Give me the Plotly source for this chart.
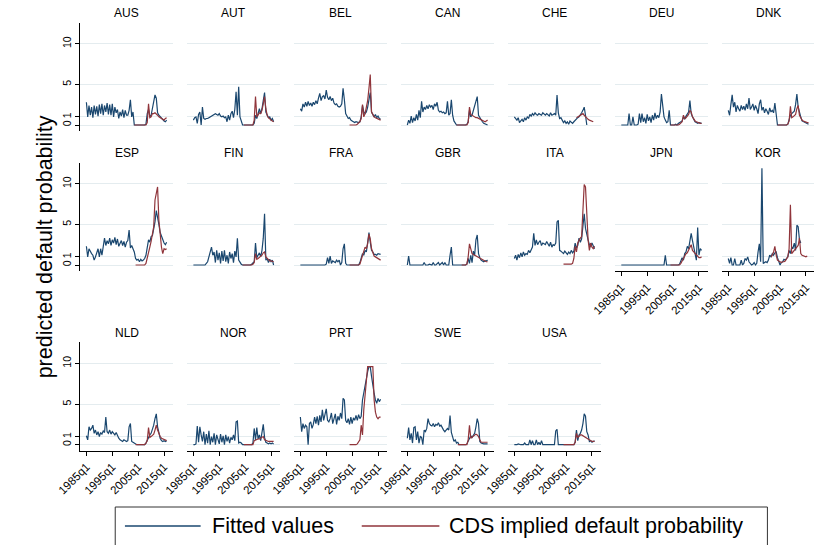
import plotly.graph_objects as go

# Semi-annual observations. Fitted values start in 1985h1; each CDS series
# starts at its own year.
FIT_START = 1985.0
STEP = 0.5

aus_fit = [2.8, 1.0, 2.4, 1.2, 2.2, 0.9, 2.4, 1.3, 2.3, 1.1,
           2.5, 1.4, 2.6, 1.2, 2.4, 1.6, 2.7, 1.3, 2.5, 1.2,
           2.6, 1.0, 2.2, 1.5, 1.9, 0.8, 1.6, 1.1, 1.9, 0.9,
           1.8, 1.2, 1.2, 1.8, 3.1, 1.0, 1.6, 0.0, 0.0, 0.0,
           0.0, 0.0, 0.0, 0.0, 0.0, 0.0, 0.1, 1.4, 1.9, 1.0,
           1.2, 2.0, 2.8, 3.7, 3.3, 1.5, 1.2, 1.0, 0.8, 0.6,
           0.5, 0.4, 0.6]
aus_cds_start = 2003.5
aus_cds = [0.0, 0.0, 0.0, 0.0, 0.0, 0.0, 0.0, 0.0, 0.0, 0.0, 0.3, 2.6,
           0.9, 1.0, 1.4, 1.4, 1.5, 1.4, 1.2, 1.0, 0.9, 0.8, 0.7, 0.6, 0.8, 0.9]

aut_fit = [0.6, 0.9, 1.0, 0.2, 1.3, 1.6, 0.0, 2.2, 0.8, 0.7,
           0.8, 0.8, 0.9, 1.0, 1.1, 1.2, 1.3, 1.4, 1.3, 1.2,
           1.4, 1.1, 1.0, 1.1, 0.9, 1.0, 0.4, 1.2, 0.6, 1.4,
           1.7, 0.9, 1.9, 4.1, 1.2, 4.7, 1.0, 0.4, 0.0, 0.0,
           0.0, 0.0, 0.0, 0.0, 0.0, 0.0, 0.0, 0.2, 1.2, 0.8,
           1.6, 2.0, 1.4, 2.0, 3.0, 4.0, 1.6, 1.2, 0.9, 1.0,
           0.6, 0.8, 0.4]
aut_cds_start = 2004.5
aut_cds = [0.0, 0.0, 0.0, 0.0, 0.0, 0.0, 0.0, 0.0, 0.6, 3.5, 1.0, 1.2,
           1.5, 1.4, 1.8, 2.6, 3.5, 2.0, 1.2, 0.9, 0.7, 0.6, 0.5, 0.4]

bel_fit = [2.0, 1.7, 2.6, 2.2, 2.8, 2.3, 2.9, 2.4, 2.7, 2.3,
           2.8, 2.5, 3.0, 2.6, 3.3, 3.9, 3.0, 3.5, 3.6, 3.2,
           4.3, 3.4, 3.1, 3.5, 3.0, 3.3, 2.7, 2.5, 2.6, 2.3,
           2.2, 2.3, 2.6, 4.5, 3.1, 1.4, 1.1, 0.8, 0.9, 0.6,
           0.5, 0.4, 0.3, 0.4, 0.3, 0.3, 0.4, 1.0, 2.4, 1.6,
           1.4, 1.6, 2.2, 3.2, 4.0, 1.6, 1.2, 1.0, 1.3, 0.9,
           1.1, 0.8, 0.7]
bel_cds_start = 2004.0
bel_cds = [0.0, 0.0, 0.0, 0.0, 0.0, 0.0, 0.1, 0.2, 0.4, 0.8, 2.5, 1.0, 1.4,
           2.2, 3.0, 4.5, 6.2, 1.6, 1.2, 1.0, 0.9, 0.8, 0.7, 0.6, 0.6]

can_fit = [0.0, 0.6, 0.2, 1.1, 0.3, 0.9, 0.5, 1.3, 0.6, 1.8,
           0.9, 2.9, 1.6, 2.2, 1.9, 2.4, 2.0, 2.5, 2.2, 2.4,
           1.9, 2.6, 2.3, 2.8, 1.8, 1.6, 1.7, 1.5, 1.6, 1.4,
           1.5, 2.9, 1.2, 1.4, 3.1, 1.2, 0.5, 0.2, 0.0, 0.0,
           0.0, 0.0, 0.0, 0.0, 0.0, 0.0, 0.1, 0.4, 1.8, 1.0,
           1.2, 1.8, 2.4, 3.0, 3.5, 1.2, 0.9, 0.6, 0.4, 0.2,
           0.1, 0.0, 0.0]
can_cds_start = 2004.0
can_cds = [0.0, 0.0, 0.0, 0.0, 0.0, 0.0, 0.0, 0.0, 0.0, 0.3, 2.2, 1.3, 1.2,
           1.0, 1.0, 0.9, 0.9, 0.8, 0.7, 0.6, 0.5, 0.4, 0.4, 0.5, 0.6]

che_fit = [1.0, 0.8, 0.6, 0.9, 0.3, 0.5, 0.7, 0.4, 0.9, 0.6,
           1.0, 0.8, 1.3, 1.1, 1.4, 1.2, 1.5, 1.3, 1.2, 1.4,
           1.3, 1.2, 1.5, 1.3, 1.2, 1.4, 1.3, 1.1, 1.5, 1.2,
           1.3, 1.4, 1.2, 3.7, 1.5, 0.8, 0.9, 0.6, 0.3, 0.5,
           0.2, 0.4, 0.1, 0.5, 0.3, 0.2, 0.4, 0.6, 0.7, 0.9,
           1.0, 1.2, 1.5, 1.8, 2.2, 1.2, 0.0]
che_cds_start = 2009.0
che_cds = [0.9, 1.0, 1.0, 1.1, 1.3, 1.4, 1.2, 1.0, 0.9, 0.7, 0.6, 0.5, 0.5, 0.4]

deu_fit = [0.0, 0.0, 0.0, 0.0, 0.0, 0.0, 1.4, 0.0, 0.0, 1.0,
           0.0, 0.0, 0.0, 0.1, 1.4, 0.3, 1.4, 0.4, 0.9, 0.2,
           1.3, 0.5, 1.0, 0.3, 1.2, 0.6, 1.5, 0.8, 1.2, 0.9,
           1.6, 3.8, 2.3, 1.0, 0.6, 0.3, 0.4, 1.8, 0.0, 0.0,
           0.0, 0.0, 0.1, 0.0, 0.2, 0.3, 0.3, 0.5, 1.0, 0.7,
           1.1, 1.3, 1.6, 3.0, 1.4, 1.0, 0.6, 0.4, 0.3, 0.2,
           0.3, 0.2, 0.2]
deu_cds_start = 2004.0
deu_cds = [0.0, 0.0, 0.0, 0.0, 0.0, 0.0, 0.0, 0.1, 0.2, 0.4, 1.2, 0.8, 0.9,
           1.1, 1.3, 1.8, 1.6, 1.0, 0.7, 0.5, 0.4, 0.3, 0.3, 0.2, 0.2]

dnk_fit = [1.8, 1.2, 2.5, 3.7, 2.2, 2.8, 1.6, 2.4, 2.0, 1.7,
           2.4, 1.9, 2.3, 1.8, 2.6, 2.0, 3.3, 1.9, 2.2, 2.6,
           1.8, 2.4, 2.0, 1.4, 2.6, 3.1, 1.8, 2.2, 1.5, 2.0,
           1.7, 1.3, 2.1, 1.6, 1.8, 1.5, 2.7, 0.8, 0.0, 0.0,
           0.0, 0.0, 0.0, 0.0, 0.0, 0.0, 0.1, 0.8, 1.2, 1.4,
           1.5, 1.7, 2.5, 3.8, 2.2, 1.4, 1.0, 0.5, 0.4, 0.3,
           0.2, 0.1, 0.1]
dnk_cds_start = 2004.0
dnk_cds = [0.0, 0.0, 0.0, 0.0, 0.0, 0.0, 0.0, 0.0, 0.1, 0.5, 2.3, 0.9, 1.0,
           1.1, 1.3, 2.0, 2.4, 1.2, 0.8, 0.6, 0.5, 0.4, 0.4, 0.3, 0.3]

esp_fit = [2.3, 1.0, 2.0, 1.6, 1.4, 1.2, 0.6, 1.0, 1.4, 2.0,
           1.0, 2.0, 1.2, 2.2, 3.3, 2.4, 3.0, 2.6, 3.3, 2.4,
           3.1, 2.7, 3.4, 2.5, 3.2, 2.3, 2.8, 3.0, 2.4, 2.9,
           2.2, 2.8, 3.0, 4.3, 2.1, 2.4, 2.0, 1.6, 0.8, 0.6,
           0.7, 0.4, 0.7, 0.5, 0.6, 0.8, 1.2, 2.3, 3.1, 2.8,
           3.5, 3.6, 4.3, 5.3, 6.7, 6.0, 5.0, 4.0, 3.5, 3.1,
           2.7, 2.5, 2.8]
esp_cds_start = 2004.0
esp_cds = [0.0, 0.0, 0.0, 0.0, 0.0, 0.0, 0.0, 0.0, 0.2, 1.0, 1.6, 2.2, 2.9,
           3.6, 4.7, 8.0, 9.0, 9.6, 5.5, 3.5, 2.2, 1.4, 2.0, 1.9, 2.0]

fin_fit = [0.0, 0.0, 0.0, 0.0, 0.0, 0.0, 0.0, 0.0, 0.0, 0.0,
           0.2, 0.4, 1.0, 1.8, 2.2, 1.2, 1.6, 0.3, 1.8, 0.6,
           1.5, 0.2, 1.7, 0.5, 1.8, 0.4, 1.2, 0.2, 1.6, 0.8,
           1.4, 0.3, 1.7, 1.0, 3.3, 0.6, 0.3, 0.1, 0.0, 0.0,
           0.0, 0.0, 0.0, 0.0, 0.0, 0.1, 0.2, 0.4, 2.7, 0.9,
           1.2, 1.5, 1.0, 1.8, 3.3, 6.3, 0.6, 0.8, 0.3, 0.7,
           0.4, 0.6, 0.0]
fin_cds_start = 2004.0
fin_cds = [0.0, 0.0, 0.0, 0.0, 0.0, 0.0, 0.0, 0.0, 0.1, 0.3, 1.4, 0.7, 0.8,
           0.9, 1.0, 1.2, 1.5, 1.6, 1.0, 0.8, 0.6, 0.5, 0.5, 0.4, 0.4]

fra_fit = [0.0, 0.0, 0.0, 0.0, 0.0, 0.0, 0.0, 0.0, 0.0, 0.0,
           0.0, 0.0, 0.0, 0.0, 0.0, 0.0, 0.0, 0.0, 0.0, 0.0,
           0.1, 0.9, 0.2, 1.1, 0.2, 0.5, 0.4, 0.3, 0.6, 0.4,
           0.6, 0.0, 0.3, 2.0, 2.6, 0.2, 0.0, 0.0, 0.0, 0.0,
           0.0, 0.0, 0.0, 0.0, 0.0, 0.0, 0.3, 0.8, 1.4, 1.2,
           1.8, 1.6, 2.8, 4.0, 2.8, 1.8, 1.6, 1.3, 1.3, 1.2,
           1.4, 1.3, 1.3]
fra_cds_start = 2004.0
fra_cds = [0.0, 0.0, 0.0, 0.0, 0.0, 0.0, 0.0, 0.0, 0.1, 0.6, 1.4, 1.8, 2.2,
           2.0, 2.6, 3.8, 3.2, 2.0, 1.4, 1.1, 1.0, 0.9, 0.8, 0.7, 0.6]

gbr_fit = [0.0, 1.1, 0.0, 0.0, 0.0, 0.0, 0.0, 0.0, 0.0, 0.0,
           0.0, 0.0, 0.0, 0.3, 0.0, 0.0, 0.0, 0.1, 0.0, 0.0,
           0.3, 0.0, 0.0, 0.1, 0.3, 0.0, 0.2, 0.3, 0.0, 0.3,
           0.0, 0.0, 0.0, 1.2, 2.2, 0.0, 0.0, 0.0, 0.0, 0.0,
           0.0, 0.0, 0.0, 0.0, 0.0, 0.0, 0.1, 0.8, 0.2, 1.2,
           0.3, 1.7, 1.2, 3.1, 3.7, 1.4, 0.9, 0.6, 0.5, 0.4,
           0.5, 0.5, 0.6]
gbr_cds_start = 2006.0
gbr_cds = [0.0, 0.0, 0.0, 0.0, 0.1, 1.0, 2.6, 1.8, 1.4, 1.3, 1.2,
           1.1, 1.0, 0.9, 0.8, 0.7, 0.6, 0.5, 0.5, 0.4, 0.4]

ita_fit = [0.8, 1.2, 0.6, 1.3, 0.9, 1.5, 1.0, 1.6, 1.2, 1.4,
           1.3, 1.8, 1.5, 1.9, 2.2, 3.9, 2.4, 3.1, 2.5, 2.8,
           3.0, 2.4, 2.7, 2.6, 2.5, 2.9, 2.6, 2.3, 2.8, 2.2,
           2.5, 2.4, 2.7, 5.3, 5.5, 1.8, 1.7, 1.5, 1.4, 1.7,
           1.5, 1.3, 1.6, 1.4, 1.8, 1.5, 1.7, 2.7, 2.1, 2.4,
           3.3, 2.8, 3.2, 5.1, 6.3, 4.5, 3.6, 3.1, 2.5, 2.3,
           2.7, 2.2, 2.0]
ita_cds_start = 2004.0
ita_cds = [0.1, 0.1, 0.1, 0.1, 0.1, 0.1, 0.1, 0.2, 0.8, 2.3, 1.6, 2.7, 3.1,
           3.3, 3.5, 7.6, 9.9, 9.6, 5.1, 3.1, 1.8, 2.7, 2.2, 2.0, 2.3]

jpn_fit = [0.0, 0.0, 0.0, 0.0, 0.0, 0.0, 0.0, 0.0, 0.0, 0.0,
           0.0, 0.0, 0.0, 0.0, 0.0, 0.0, 0.0, 0.0, 0.0, 0.0,
           0.0, 0.0, 0.0, 0.0, 0.0, 0.0, 0.0, 0.0, 0.0, 0.0,
           0.0, 0.0, 0.0, 0.0, 1.2, 0.0, 0.0, 0.0, 0.0, 0.0,
           0.0, 0.0, 0.0, 0.0, 0.0, 0.1, 0.5, 0.9, 0.6, 1.4,
           1.6, 2.3, 2.0, 3.1, 3.9, 3.0, 2.0, 1.4, 0.6, 4.6,
           1.2, 2.0, 1.8]
jpn_cds_start = 2004.0
jpn_cds = [0.0, 0.0, 0.0, 0.0, 0.0, 0.0, 0.0, 0.0, 0.2, 0.5, 0.9, 1.2, 1.4,
           1.5, 1.8, 2.1, 2.5, 1.8, 1.6, 1.4, 1.2, 1.0, 0.9, 0.9, 1.0]

kor_fit = [0.8, 0.2, 0.9, 0.0, 0.0, 0.8, 0.0, 0.0, 0.0, 0.0,
           0.6, 0.0, 0.2, 0.8, 0.6, 1.0, 0.4, 0.2, 0.0, 0.1,
           0.3, 0.0, 0.2, 1.6, 2.6, 0.4, 11.9, 0.2, 0.3, 0.4,
           0.3, 0.6, 1.2, 1.0, 1.4, 1.2, 1.5, 1.6, 0.9, 0.4,
           0.0, 0.3, 0.4, 0.7, 0.6, 0.8, 1.0, 1.8, 1.4, 2.2,
           2.1, 2.7, 1.8, 4.9, 4.7, 3.1, 2.7]
kor_cds_start = 2001.5
kor_cds = [1.0, 1.2, 1.6, 2.3, 1.2, 0.6, 0.5, 0.4, 0.3, 0.4, 0.4, 0.5, 0.7,
           1.0, 2.0, 7.4, 1.4, 1.6, 1.8, 2.0, 2.2, 2.4, 3.3, 1.4, 1.2, 1.1,
           1.0, 1.0, 1.1]

nld_fit = [1.1, 0.6, 2.2, 1.8, 2.0, 2.4, 1.4, 1.8, 1.2, 1.6,
           1.0, 1.5, 1.3, 1.7, 1.5, 3.4, 1.6, 1.4, 1.8, 1.3,
           1.6, 1.4, 1.2, 1.5, 1.1, 0.8, 0.6, 0.5, 0.4, 0.6,
           0.5, 0.4, 0.5, 2.2, 2.6, 0.4, 0.3, 0.2, 0.0, 0.0,
           0.0, 0.0, 0.0, 0.0, 0.0, 0.0, 0.2, 0.6, 1.0, 1.2,
           1.4, 1.8, 2.4, 3.2, 3.8, 2.2, 1.3, 0.8, 0.5, 0.4,
           0.5, 0.4, 0.5]
nld_cds_start = 2004.0
nld_cds = [0.0, 0.0, 0.0, 0.0, 0.0, 0.0, 0.0, 0.0, 0.2, 0.5, 2.1, 0.9, 1.0,
           1.1, 1.3, 1.8, 2.4, 1.8, 1.3, 1.0, 0.8, 0.7, 0.6, 0.5, 0.5]

nor_fit = [0.0, 0.0, 0.1, 2.3, 0.3, 2.2, 1.2, 0.4, 1.6, 0.0,
           1.3, 0.2, 1.7, 0.0, 1.0, 0.3, 1.4, 0.0, 1.2, 0.5,
           0.1, 1.3, 0.3, 1.1, 0.0, 1.2, 0.4, 1.0, 0.2, 0.9,
           0.6, 1.2, 0.5, 2.8, 2.9, 0.2, 0.3, 0.2, 0.0, 0.0,
           0.0, 0.0, 0.0, 0.0, 0.0, 0.0, 0.2, 2.0, 0.6, 2.1,
           0.7, 1.2, 0.5, 1.4, 2.5, 0.9, 0.3, 0.2, 0.1, 0.2,
           0.1, 0.2, 0.1]
nor_cds_start = 2004.5
nor_cds = [0.0, 0.0, 0.0, 0.0, 0.0, 0.0, 0.0, 0.0, 0.5, 0.6, 0.6, 0.7,
           0.7, 0.8, 0.9, 1.0, 0.6, 0.5, 0.4, 0.4, 0.4, 0.4, 0.4, 0.4]

prt_fit = [3.4, 1.6, 2.6, 2.0, 2.4, 2.2, 0.0, 2.6, 2.8, 2.0,
           2.5, 3.4, 2.6, 3.5, 2.4, 3.6, 2.8, 4.3, 3.0, 3.7,
           4.4, 3.0, 2.8, 3.2, 3.9, 2.6, 3.3, 3.8, 2.5, 3.5,
           3.0, 3.9, 3.2, 5.7, 5.5, 3.0, 2.7, 3.2, 2.5, 3.4,
           2.6, 3.3, 3.0, 3.6, 3.0, 3.7, 3.2, 3.5, 5.5, 6.5,
           7.2, 8.0, 9.0, 9.6, 9.6, 8.4, 7.1, 6.3, 5.5, 5.1,
           5.7, 5.3, 5.6]
prt_cds_start = 2004.0
prt_cds = [0.0, 0.0, 0.0, 0.0, 0.0, 0.0, 0.1, 0.3, 0.6, 2.4, 1.2, 4.3, 6.0,
           8.4, 9.6, 9.6, 9.6, 9.6, 9.6, 5.5, 4.0, 3.4, 3.2, 3.4, 3.4]

swe_fit = [0.8, 2.1, 0.6, 1.4, 0.2, 2.1, 2.2, 0.6, 1.6, 0.2,
           1.0, 0.9, 0.0, 1.8, 1.6, 2.0, 3.2, 2.6, 2.4, 2.3,
           2.6, 2.2, 2.5, 2.4, 2.7, 2.3, 2.4, 2.0, 1.8, 1.6,
           1.8, 2.0, 1.8, 3.6, 1.5, 1.0, 0.4, 0.6, 0.2, 0.3,
           0.0, 0.0, 0.0, 0.0, 0.0, 0.0, 0.1, 0.5, 0.8, 1.1,
           0.9, 1.2, 1.4, 2.2, 3.2, 2.6, 0.4, 0.2, 0.1, 0.1,
           0.1, 0.1, 0.1]
swe_cds_start = 2004.5
swe_cds = [0.0, 0.0, 0.0, 0.0, 0.0, 0.0, 0.0, 0.0, 0.6, 2.4, 0.8, 0.9,
           1.0, 1.2, 1.3, 1.2, 1.0, 0.6, 0.3, 0.3, 0.3, 0.3, 0.3, 0.3]

usa_fit = [0.0, 0.0, 0.0, 0.1, 0.0, 0.0, 0.0, 0.0, 0.2, 0.0,
           0.0, 0.0, 0.6, 0.0, 0.5, 0.0, 0.0, 0.6, 0.0, 0.3,
           0.0, 0.5, 0.0, 0.0, 0.0, 0.0, 0.0, 0.0, 0.0, 0.0,
           0.0, 0.0, 1.7, 1.9, 0.0, 0.0, 0.0, 0.0, 0.0, 0.0,
           0.0, 0.0, 0.0, 0.0, 0.0, 0.0, 0.0, 0.3, 1.8, 0.5,
           1.2, 1.4, 1.8, 2.6, 3.8, 3.5, 1.6, 1.2, 0.4, 0.5,
           0.3, 0.4, 0.5]
usa_cds_start = 2004.0
usa_cds = [0.0, 0.0, 0.0, 0.0, 0.0, 0.0, 0.0, 0.0, 0.0, 0.3, 1.4, 0.9, 1.1,
           1.2, 1.2, 1.1, 1.0, 0.9, 0.8, 0.6, 0.5, 0.5, 0.4, 0.4, 0.4]

panels = [
    ("AUS", aus_fit, aus_cds_start, aus_cds),
    ("AUT", aut_fit, aut_cds_start, aut_cds),
    ("BEL", bel_fit, bel_cds_start, bel_cds),
    ("CAN", can_fit, can_cds_start, can_cds),
    ("CHE", che_fit, che_cds_start, che_cds),
    ("DEU", deu_fit, deu_cds_start, deu_cds),
    ("DNK", dnk_fit, dnk_cds_start, dnk_cds),
    ("ESP", esp_fit, esp_cds_start, esp_cds),
    ("FIN", fin_fit, fin_cds_start, fin_cds),
    ("FRA", fra_fit, fra_cds_start, fra_cds),
    ("GBR", gbr_fit, gbr_cds_start, gbr_cds),
    ("ITA", ita_fit, ita_cds_start, ita_cds),
    ("JPN", jpn_fit, jpn_cds_start, jpn_cds),
    ("KOR", kor_fit, kor_cds_start, kor_cds),
    ("NLD", nld_fit, nld_cds_start, nld_cds),
    ("NOR", nor_fit, nor_cds_start, nor_cds),
    ("PRT", prt_fit, prt_cds_start, prt_cds),
    ("SWE", swe_fit, swe_cds_start, swe_cds),
    ("USA", usa_fit, usa_cds_start, usa_cds),
]

x_tick_years = [1985, 1995, 2005, 2015]
x_tick_text = ["1985q1", "1995q1", "2005q1", "2015q1"]
y_ticks = [0, 1, 5, 10]

# ---- geometry (pixels) ----
W, H = 814, 545
NCOL = 7
PX_PER_YEAR = 2.667
PX_PER_UNIT = 8.13
TICK0_X = 64.3          # x position of the 1985q1 tick in the first column
COL_STEP = 110.23
LEFT_PAD = 6.3          # plot region starts this far left of the 1985q1 tick
PANEL_W = 95.5
ROW_ZERO_Y = [125.0, 265.0, 444.7]
ABOVE_ZERO = 102.3
BELOW_ZERO = 6.0

BLUE = "#1a476f"
RED = "#90353b"
GRID = "#e4ecef"
FONT = "Liberation Sans, Arial, sans-serif"

fig = go.Figure()
annotations = []
layout_axes = {}

for i, (name, fit, cds_start, cds) in enumerate(panels):
    r, c = divmod(i, NCOL)
    n = i + 1
    xa = "x" if n == 1 else f"x{n}"
    ya = "y" if n == 1 else f"y{n}"

    fit_x = [FIT_START + STEP * k for k in range(len(fit))]
    cds_x = [cds_start + STEP * k for k in range(len(cds))]
    fig.add_trace(go.Scatter(x=fit_x, y=fit, mode="lines", xaxis=xa, yaxis=ya,
                             line=dict(color=BLUE, width=1.2),
                             showlegend=False, hoverinfo="skip"))
    fig.add_trace(go.Scatter(x=cds_x, y=cds, mode="lines", xaxis=xa, yaxis=ya,
                             line=dict(color=RED, width=1.2),
                             showlegend=False, hoverinfo="skip"))

    tick0 = TICK0_X + COL_STEP * c
    left = tick0 - LEFT_PAD
    right = min(left + PANEL_W, W)
    zero_y = ROW_ZERO_Y[r]
    top = zero_y - ABOVE_ZERO
    bottom = zero_y + BELOW_ZERO

    is_bottom = (r == 2) or (r == 1 and c >= 5)
    is_left = (c == 0)

    layout_axes["xaxis" if n == 1 else f"xaxis{n}"] = dict(
        domain=[left / W, right / W],
        range=[1985 - LEFT_PAD / PX_PER_YEAR, 1985 + (right - tick0) / PX_PER_YEAR],
        anchor=ya, showgrid=False, zeroline=False,
        showline=is_bottom, linecolor="#000000", linewidth=1,
        ticks="outside" if is_bottom else "", ticklen=4, tickcolor="#000000",
        tickvals=x_tick_years, ticktext=x_tick_text, tickangle=-45,
        showticklabels=is_bottom,
        tickfont=dict(family=FONT, size=11.5, color="#000000"),
        fixedrange=True,
    )
    layout_axes["yaxis" if n == 1 else f"yaxis{n}"] = dict(
        domain=[1 - bottom / H, 1 - top / H],
        range=[-BELOW_ZERO / PX_PER_UNIT, ABOVE_ZERO / PX_PER_UNIT],
        anchor=xa, showgrid=True, gridcolor=GRID, gridwidth=1, zeroline=False,
        showline=is_left, linecolor="#000000", linewidth=1,
        ticks="outside" if is_left else "", ticklen=4, tickcolor="#000000",
        tickvals=y_ticks, ticktext=[str(v) for v in y_ticks], tickangle=-90,
        showticklabels=is_left,
        tickfont=dict(family=FONT, size=10.5, color="#000000"),
        fixedrange=True,
    )

    annotations.append(dict(
        text=name, xref="paper", yref="paper",
        x=(left + right) / 2 / W, y=1 - (top - 9.5) / H,
        xanchor="center", yanchor="middle", showarrow=False,
        font=dict(family=FONT, size=12, color="#000000"),
    ))

# axis title shared by all panels
annotations.append(dict(
    text="predicted default probability", xref="paper", yref="paper",
    x=22 / W, y=1 - 247 / H, xanchor="center", yanchor="middle",
    textangle=-90, showarrow=False,
    font=dict(family=FONT, size=21.5, color="#000000"),
))

# legend: framed box with two line keys
LEG_Y = 526
shapes = [
    dict(type="rect", xref="paper", yref="paper",
         x0=94 / W, x1=766 / W, y0=1 - 570 / H, y1=1 - 507 / H,
         line=dict(color="#333333", width=1), fillcolor="rgba(0,0,0,0)"),
    dict(type="line", xref="paper", yref="paper",
         x0=104 / W, x1=182 / W, y0=1 - LEG_Y / H, y1=1 - LEG_Y / H,
         line=dict(color=BLUE, width=1.5)),
    dict(type="line", xref="paper", yref="paper",
         x0=348 / W, x1=428 / W, y0=1 - LEG_Y / H, y1=1 - LEG_Y / H,
         line=dict(color=RED, width=1.5)),
]
annotations.append(dict(
    text="Fitted values", xref="paper", yref="paper",
    x=192 / W, y=1 - LEG_Y / H, xanchor="left", yanchor="middle",
    showarrow=False, font=dict(family=FONT, size=21.5, color="#000000"),
))
annotations.append(dict(
    text="CDS implied default probability", xref="paper", yref="paper",
    x=436 / W, y=1 - LEG_Y / H, xanchor="left", yanchor="middle",
    showarrow=False, font=dict(family=FONT, size=21.5, color="#000000"),
))

fig.update_layout(
    width=W, height=H,
    margin=dict(l=0, r=0, t=0, b=0),
    paper_bgcolor="#ffffff", plot_bgcolor="#ffffff",
    annotations=annotations, shapes=shapes,
    **layout_axes,
)

fig.write_html("out.html", config={"displayModeBar": False})
